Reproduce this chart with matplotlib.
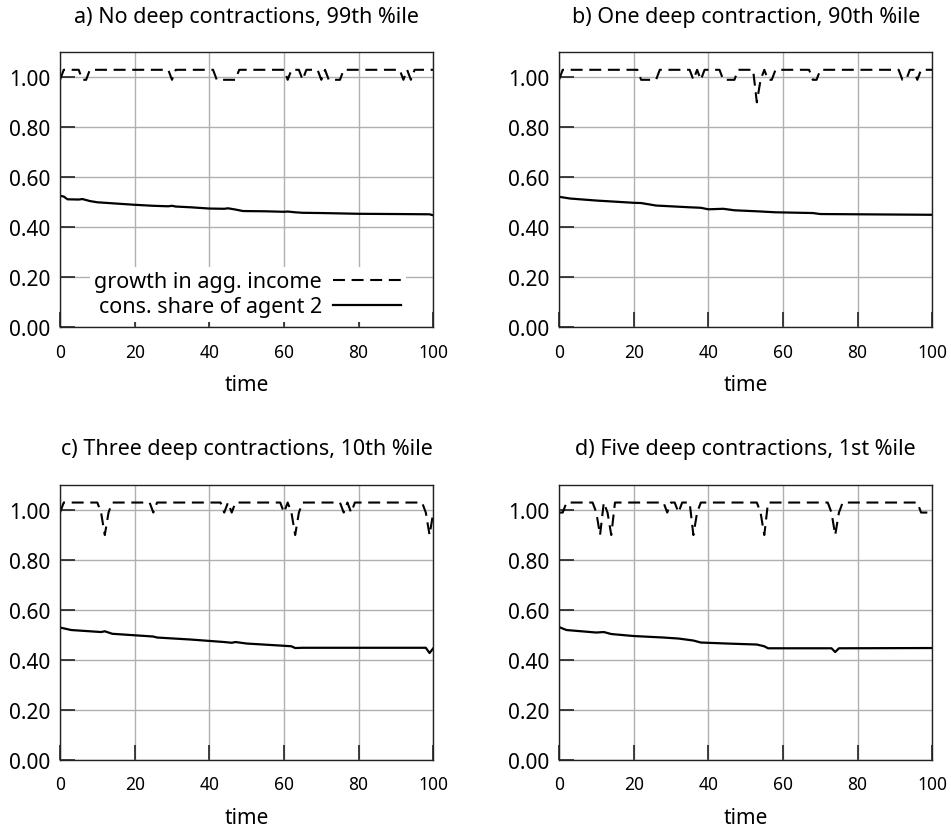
import matplotlib
matplotlib.use("Agg")
import matplotlib.pyplot as plt
import numpy as np

plt.rcParams["font.family"] = ["Noto Sans", "DejaVu Sans"]
plt.rcParams["lines.scale_dashes"] = False

H, L, D = 1.03, 0.99, 0.90

titles = [
    "a) No deep contractions, 99th %ile",
    "b) One deep contraction, 90th %ile",
    "c) Three deep contractions, 10th %ile",
    "d) Five deep contractions, 1st %ile",
]

# growth in aggregate income, t = 0..100
growth_a = ([L] + [H] * 5 + [L] * 2 + [H] * 22 + [L] + [H] * 11 + [L] * 6 + [H] * 13
            + [L] + [H] * 3 + [L] + [H] * 4 + [L] + [H] + [L] * 4 + [H] * 16 + [L] + [H]
            + [L] + [H] * 6)
growth_b = ([L] + [H] * 21 + [L] * 5 + [H] * 9 + [L] + [H] + [L] + [H] * 5 + [L] * 4
            + [H] * 5 + [D] + [L] + [H] + [L] * 2 + [H] * 10 + [L] * 2 + [H] * 22
            + [L] * 2 + [H] * 2 + [L] + [H] * 4)
growth_c = ([L] + [H] * 10 + [L] + [D] + [L] + [H] * 11 + [L] + [H] * 18 + [L] + [H]
            + [L] + [H] * 13 + [L] + [H] + [L] + [D] + [L] + [H] * 11 + [L] + [H] + [L]
            + [H] * 19 + [L] + [D] + [L])
growth_d = ([L] * 2 + [H] * 8 + [L] + [D] + [H] + [L] + [D] + [H] * 14 + [L] + [H] * 2
            + [L] + [H] * 3 + [D] + [L] + [H] * 16 + [L] + [D] + [H] * 17 + [L] + [D]
            + [L] + [H] * 21 + [L] * 4)

# consumption share of agent 2
share_t_a = [0, 1, 2, 5, 6, 8, 10, 15, 20, 25, 29, 30, 31, 35, 40, 44, 45, 47, 49, 55,
             60, 61, 63, 65, 70, 80, 90, 99, 100]
share_a = [0.526, 0.523, 0.512, 0.511, 0.513, 0.505, 0.500, 0.495, 0.490, 0.486, 0.484,
           0.486, 0.483, 0.480, 0.475, 0.474, 0.476, 0.471, 0.465, 0.464, 0.462, 0.463,
           0.460, 0.458, 0.457, 0.454, 0.453, 0.452, 0.448]
share_t_b = [0, 3, 10, 20, 22, 26, 35, 38, 40, 44, 47, 53, 58, 68, 70, 80, 100]
share_b = [0.522, 0.515, 0.507, 0.498, 0.497, 0.487, 0.480, 0.478, 0.472, 0.474, 0.468,
           0.464, 0.460, 0.457, 0.453, 0.452, 0.450]
share_t_c = [0, 3, 11, 12, 14, 25, 26, 35, 44, 46, 47, 50, 60, 62, 63, 65, 98, 99, 100]
share_c = [0.530, 0.520, 0.512, 0.515, 0.505, 0.494, 0.490, 0.482, 0.472, 0.469, 0.472,
           0.466, 0.457, 0.455, 0.448, 0.449, 0.449, 0.428, 0.447]
share_t_d = [0, 2, 10, 12, 14, 20, 28, 30, 32, 36, 38, 45, 53, 55, 56, 73, 74, 75, 100]
share_d = [0.532, 0.520, 0.510, 0.512, 0.504, 0.496, 0.490, 0.488, 0.486, 0.478, 0.470,
           0.466, 0.462, 0.455, 0.447, 0.447, 0.432, 0.447, 0.448]

growths = [growth_a, growth_b, growth_c, growth_d]
share_ts = [share_t_a, share_t_b, share_t_c, share_t_d]
shares = [share_a, share_b, share_c, share_d]

fig = plt.figure(figsize=(9.51, 8.29), dpi=100)
lefts = [0.0631, 0.5878]
bottoms = [0.604, 0.082]

for i in range(4):
    ax = fig.add_axes([lefts[i % 2], bottoms[i // 2], 0.3925, 0.3317])
    t = np.arange(len(growths[i]))
    ax.plot(t, growths[i], color="black", lw=1.5, dashes=(8.6, 4.8),
            label="growth in agg. income")
    ax.plot(share_ts[i], shares[i], color="black", lw=1.6,
            label="cons. share of agent 2")
    ax.set_xlim(0, 100)
    ax.set_ylim(0, 1.1)
    ax.set_xticks([0, 20, 40, 60, 80, 100])
    ax.set_yticks([0, 0.2, 0.4, 0.6, 0.8, 1.0])
    ax.set_yticklabels(["%.2f" % v for v in [0, 0.2, 0.4, 0.6, 0.8, 1.0]])
    ax.grid(True, color="#b0b0b0", lw=1.0)
    ax.set_axisbelow(True)
    ax.tick_params(axis="y", direction="in", length=11, width=1.2, labelsize=15, pad=7,
                   color="#222222")
    ax.tick_params(axis="x", direction="in", length=11, width=1.2, labelsize=12.5, pad=11,
                   color="#222222")
    for s in ax.spines.values():
        s.set_linewidth(1.0)
        s.set_color("#222222")
    ax.set_xlabel("time", fontsize=15, labelpad=10)
    ax.set_title(titles[i], fontsize=15.5, pad=22)
    if i == 0:
        leg = ax.legend(loc="center right", bbox_to_anchor=(0.955, 0.12), markerfirst=False,
                        fontsize=15.5, handlelength=3.2, frameon=True, framealpha=1,
                        edgecolor="none", borderpad=0.2, labelspacing=0.2,
                        handletextpad=0.5, fancybox=False)

fig.savefig("out.png", dpi=100)
